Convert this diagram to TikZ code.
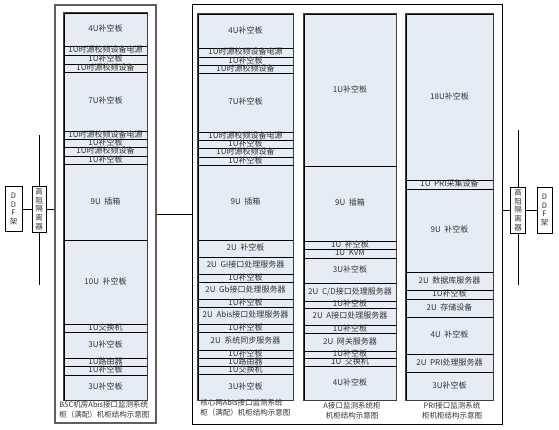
\documentclass[tikz,border=0pt]{standalone}
\usepackage{fontspec}
\newfontfamily\cjk{Noto Sans CJK SC}
\definecolor{slotfill}{RGB}{230,236,246}
\definecolor{framegray}{RGB}{95,95,95}
\definecolor{txtgray}{RGB}{50,50,50}
\tikzset{
  slotbox/.style={draw=black, fill=slotfill, line width=0.7pt, inner sep=0pt,
    text=txtgray, text height=5.6pt, text depth=1.2pt, font=\cjk\fontsize{8}{9}\selectfont},
  colbox/.style={draw=black!75, line width=1.1pt},
  sidebox/.style={draw, line width=0.8pt, fill=white, inner sep=0pt, align=center,
    text=txtgray, font=\cjk\fontsize{7.5}{8.8}\selectfont},
  captext/.style={align=left, inner sep=0pt, text=txtgray, font=\cjk\fontsize{7.5}{10}\selectfont}
}

\begin{document}
\begin{tikzpicture}[x=1pt, y=-1pt, line width=0.8pt]
\useasboundingbox (0,0) rectangle (559,430);

\node[draw=framegray, line width=1.2pt, minimum width=101pt, minimum height=418pt] (bscframe) at (105.5,214) {};
\node[draw, line width=0.9pt, minimum width=310pt, minimum height=420pt] (mainframe) at (347,214) {};

\foreach [count=\i] \ya/\yb/\txt in {13/46/4U补空板, 46/55/1U时源校频设备电源, 55/64/1U补空板,
    64/72/1U时源校频设备, 72/131/7U补空板, 131/139/1U时源校频设备电源, 139/147/1U补空板,
    147/156/1U时源校频设备, 156/164/1U补空板, 164/240/9U\ \ 插箱, 240/324/10U\ \ 补空板,
    324/332/1U交换机, 332/358/3U补空板, 358/366/1U路由器, 366/375/1U补空板, 375/400/3U补空板}
  \node[slotbox, minimum width=83pt, minimum height={(\yb-\ya)*1pt}] (bsc\i) at (105.5,{(\ya+\yb)/2}) {\txt};
\draw[colbox] (bsc1.north west) rectangle (bsc16.south east);

\foreach [count=\i] \ya/\yb/\txt in {14/48/4U补空板, 48/57/1U时源校频设备电源, 57/65/1U补空板,
    65/73/1U时源校频设备, 73/132/7U补空板, 132/140/1U时源校频设备电源, 140/148/1U补空板,
    148/157/1U时源校频设备, 157/165/1U补空板, 165/240/9U\ \ 插箱, 240/257/2U\ \ 补空板,
    257/274/2U\ \ Gi接口处理服务器, 274/282/1U补空板, 282/299/2U\ \ Gb接口处理服务器, 299/307/1U补空板,
    307/324/2U\ \ Abis接口处理服务器, 324/332/1U补空板, 332/350/2U\ \ 系统同步服务器, 350/358/1U补空板,
    358/366/1U路由器, 366/374/1U交换机, 374/400/3U补空板}
  \node[slotbox, minimum width=95pt, minimum height={(\yb-\ya)*1pt}] (core\i) at (245.5,{(\ya+\yb)/2}) {\txt};
\draw[colbox] (core1.north west) rectangle (core22.south east);

\foreach [count=\i] \ya/\yb/\txt in {14/166/1U补空板, 166/241/9U\ \ 插箱, 241/249/1U\ \ 补空板,
    249/258/1U\ \ KVM, 258/283/3U补空板, 283/301/{2U\ \ C/D接口处理服务器}, 301/308/1U补空板,
    308/325/2U\ \ A接口处理服务器, 325/333/1U补空板, 333/351/2U\ \ 网关服务器, 351/358/1U补空板,
    358/366/1U\ \ 交换机, 366/400/4U补空板}
  \node[slotbox, minimum width=92pt, minimum height={(\yb-\ya)*1pt}] (acab\i) at (350,{(\ya+\yb)/2}) {\txt};
\draw[colbox] (acab1.north west) rectangle (acab13.south east);

\foreach [count=\i] \ya/\yb/\txt in {14/180/18U补空板, 180/189/1U\ \ PRI采集设备, 189/272/9U\ \ 补空板,
    272/290/2U\ \ 数据库服务器, 290/299/1U补空板, 299/317/2U\ \ 存储设备, 317/354/4U\ \ 补空板,
    354/372/2U\ \ PRI处理服务器, 372/400/3U补空板}
  \node[slotbox, minimum width=87pt, minimum height={(\yb-\ya)*1pt}] (pri\i) at (449.5,{(\ya+\yb)/2}) {\txt};
\draw[colbox] (pri1.north west) rectangle (pri9.south east);

\node[captext, anchor=north west] (bsccap) at (59,401) {BSC机房Abis接口监测系统\\柜（满配）机柜结构示意图};
\node[captext, anchor=north west] (corecap) at (200,399) {核心网Abis接口监测系统\\柜（满配）机柜结构示意图};
\node[captext, align=center] (acap) at (352,411) {A接口监测系统柜\\机柜结构示意图};
\node[captext, align=center] (pricap) at (452,411) {PRI接口监测系统\\柜机柜结构示意图};

\node[sidebox, minimum width=17pt, minimum height=45pt] (ddfL) at (13.5,209) {D\\D\\F\\架};
\node[sidebox, minimum width=14pt, minimum height=46pt] (isoL) at (39,209) {高\\阻\\隔\\离\\器};
\coordinate (isoLtop) at (39,135);
\coordinate (isoLbot) at (39,285);
\draw (isoLtop) -- (isoL.north);
\draw (isoL.south) -- (isoLbot);
\draw (ddfL.east) -- (isoL.west);
\draw (isoL.east) -- (isoL.east -| bscframe.west);

\draw (bscframe.east) -- (mainframe.west);

\node[sidebox, minimum width=15pt, minimum height=46pt] (isoR) at (518,210) {高\\阻\\隔\\离\\器};
\node[sidebox, minimum width=15pt, minimum height=46pt] (ddfR) at (544.5,210) {D\\D\\F\\架};
\coordinate (isoRtop) at (518,130);
\coordinate (isoRbot) at (518,285);
\draw (isoRtop) -- (isoR.north);
\draw (isoR.south) -- (isoRbot);
\draw (isoR.west -| mainframe.east) -- (isoR.west);
\draw (isoR.east) -- (ddfR.west);
\end{tikzpicture}
\end{document}
